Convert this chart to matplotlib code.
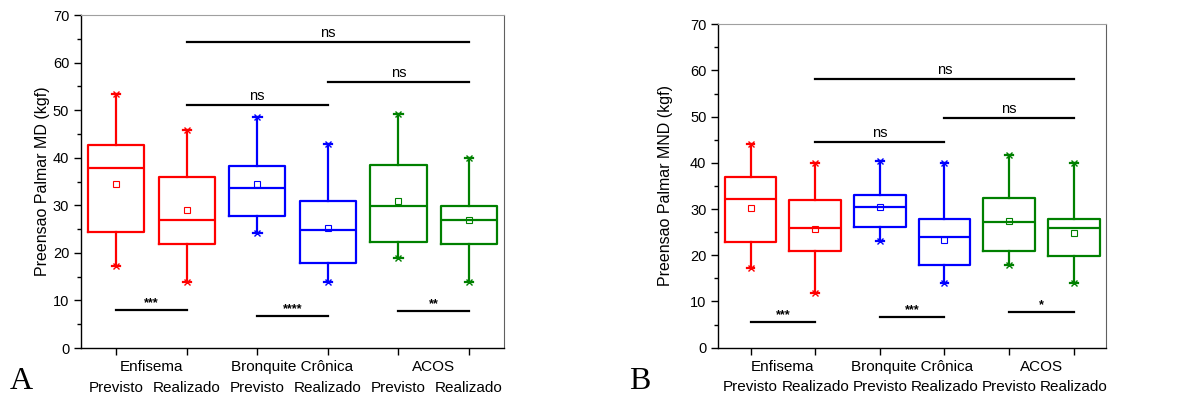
import matplotlib.pyplot as plt
from matplotlib.ticker import MultipleLocator

plt.rcParams['font.family'] = ['Liberation Sans', 'DejaVu Sans']

# five-number summaries + mean (low whisker, q1, median, q3, high whisker, mean)
groups = ['Enfisema', 'Bronquite Crônica', 'ACOS']
conds = ['Previsto', 'Realizado']
colors = ['#ff0000', '#ff0000', '#0000ff', '#0000ff', '#008000', '#008000']

# panel A - MD
a_low = [17.2, 13.9, 24.2, 13.9, 19.0, 13.9]
a_q1 = [24.4, 21.9, 27.8, 17.9, 22.3, 21.9]
a_med = [37.9, 26.9, 33.7, 24.8, 29.8, 26.9]
a_q3 = [42.6, 35.9, 38.2, 30.8, 38.5, 29.9]
a_high = [53.3, 45.8, 48.5, 42.9, 49.1, 39.9]
a_mean = [34.4, 29.1, 34.4, 25.3, 30.9, 27.0]

# panel B - MND
b_low = [17.2, 11.9, 23.1, 13.9, 17.9, 13.9]
b_q1 = [22.9, 20.9, 26.1, 17.8, 20.9, 19.9]
b_med = [32.2, 25.9, 30.5, 23.9, 27.2, 25.9]
b_q3 = [36.9, 32.0, 33.1, 27.8, 32.4, 27.8]
b_high = [44.0, 39.9, 40.5, 39.9, 41.7, 39.9]
b_mean = [30.3, 25.6, 30.5, 23.4, 27.4, 24.8]

# significance bars: (from box, to box, y, label)
a_sig = [(2, 6, 64.3, 'ns'), (4, 6, 56.0, 'ns'), (2, 4, 51.0, 'ns'),
         (1, 2, 8.0, '***'), (3, 4, 6.7, '****'), (5, 6, 7.8, '**')]
b_sig = [(2, 6, 58.1, 'ns'), (4, 6, 49.7, 'ns'), (2, 4, 44.6, 'ns'),
         (1, 2, 5.5, '***'), (3, 4, 6.6, '***'), (5, 6, 7.8, '*')]


def draw_panel(ax, low, q1, med, q3, high, mean, sigs, ylabel, letter, lx, lpad):
    stats = []
    for i in range(6):
        stats.append(dict(whislo=low[i], q1=q1[i], med=med[i], q3=q3[i],
                          whishi=high[i], mean=mean[i], fliers=[]))
    pos = list(range(1, 7))
    bp = ax.bxp(stats, positions=pos, widths=0.8, showmeans=True,
                capwidths=0.12, patch_artist=False)
    for i in range(6):
        c = colors[i]
        bp['boxes'][i].set(color=c, linewidth=1.6)
        bp['medians'][i].set(color=c, linewidth=1.6)
        for w in bp['whiskers'][2 * i:2 * i + 2]:
            w.set(color=c, linewidth=1.6)
        for cp in bp['caps'][2 * i:2 * i + 2]:
            cp.set(color=c, linewidth=1.6)
        bp['means'][i].set(marker='s', markerfacecolor='none',
                           markeredgecolor=c, markersize=3.8, markeredgewidth=0.8)
        ax.plot([pos[i], pos[i]], [low[i], high[i]], ls='none', marker='x',
                color=c, markersize=5, markeredgewidth=1.0)

    for x0, x1, y, lab in sigs:
        ax.plot([x0, x1], [y, y], color='black', linewidth=1.6)
        if lab == 'ns':
            ax.annotate(lab, ((x0 + x1) / 2, y), xytext=(0, 1.5),
                        textcoords='offset points', ha='center', va='bottom',
                        fontsize=10.5)
        else:
            ax.annotate(lab, ((x0 + x1) / 2, y), xytext=(0, 0.5),
                        textcoords='offset points', ha='center', va='bottom',
                        fontsize=9, fontweight='bold')

    ax.set_xlim(0.5, 6.5)
    ax.set_ylim(0, 70)
    ax.yaxis.set_major_locator(MultipleLocator(10))
    ax.yaxis.set_minor_locator(MultipleLocator(5))
    ax.tick_params(axis='y', which='major', length=5, width=1, labelsize=10.5,
                   direction='out')
    ax.tick_params(axis='y', which='minor', length=3, width=1, direction='out')
    ax.set_xticks(pos)
    ax.set_xticklabels(conds * 3, fontsize=11)
    ax.tick_params(axis='x', length=5, width=1, pad=18.5)
    for j, g in enumerate(groups):
        ax.annotate(g, (2 * j + 1.5, 0), xycoords=('data', 'axes fraction'),
                    xytext=(0, -19), textcoords='offset pixels',
                    ha='center', va='center', fontsize=11)
    ax.set_ylabel(ylabel, fontsize=11.5, labelpad=lpad)
    ax.spines['top'].set_color('#a0a0a0')
    ax.spines['right'].set_color('#606060')
    ax.spines['left'].set_linewidth(1.0)
    ax.spines['bottom'].set_linewidth(1.0)
    fig.text(lx, 0.005, letter, family='Liberation Serif', fontsize=23,
             ha='left', va='bottom')


fig = plt.figure(figsize=(11.82, 3.98), dpi=100)
ax1 = fig.add_axes([0.0685, 0.1256, 0.358, 0.8367])
ax2 = fig.add_axes([0.6077, 0.1264, 0.328, 0.8126])

draw_panel(ax1, a_low, a_q1, a_med, a_q3, a_high, a_mean, a_sig,
           'Preensao Palmar MD (kgf)', 'A', 0.008, 2)
draw_panel(ax2, b_low, b_q1, b_med, b_q3, b_high, b_mean, b_sig,
           'Preensao Palmar MND (kgf)', 'B', 0.532, 12)

fig.savefig('out.png', dpi=100)
